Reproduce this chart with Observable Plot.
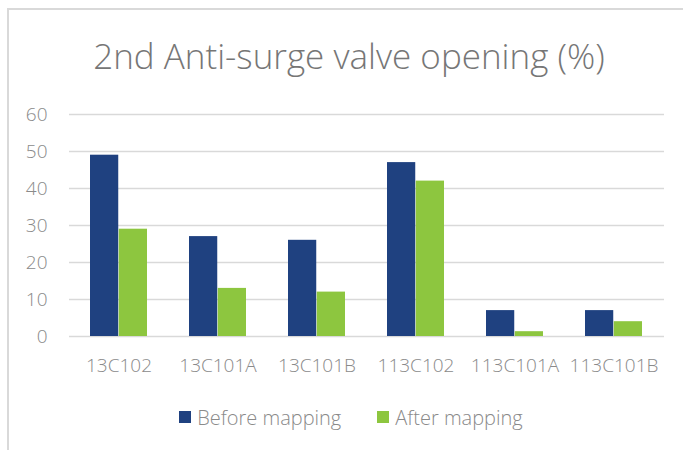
<!DOCTYPE html>
<html><head><meta charset="utf-8">
<script src="https://cdn.jsdelivr.net/npm/d3@7"></script>
<script src="https://cdn.jsdelivr.net/npm/@observablehq/plot@0.6"></script>
<style>
body{margin:0;background:#fff;font-family:"Open Sans",sans-serif;width:683px;height:450px;overflow:hidden;position:relative;}
#frame{position:absolute;left:7px;top:8px;width:720px;height:480px;border-left:2px solid #d9d9d9;border-top:2px solid #d9d9d9;}
#title{position:absolute;left:0;top:32px;width:698px;text-align:center;font-size:35px;font-weight:300;color:#767676;white-space:nowrap;}
#chart{position:absolute;left:0;top:0;}
#legend{position:absolute;left:0;top:404px;width:702px;display:flex;justify-content:center;gap:36px;font-size:20px;font-weight:300;color:#8a8a8a;}
#legend span.item{display:flex;align-items:center;}
#legend span.sw{display:inline-block;width:12px;height:12px;margin-right:6px;margin-top:-2px;}
</style></head>
<body>
<div id="frame"></div>
<div id="chart"></div>
<div id="title">2nd Anti-surge valve opening (%)</div>
<div id="legend"></div>
<script>
const categories = ["13C102","13C101A","13C101B","113C102","113C101A","113C101B"];
const seriesNames = ["Before mapping","After mapping"];
const before = [49,27,26,47,7,7];
const after = [29,13,12,42,1.3,4];
const yTicks = [0,10,20,30,40,50,60];

const beforeData = categories.map((c,i)=>({cat:c, value:before[i]}));
const afterData = categories.map((c,i)=>({cat:c, value:after[i]}));
const colors = ["#1f4180","#8dc63f"];

const W = 683, ML = 69, MR = 19, padIn = 0.42, padOut = 0.21;
const step = (W - ML - MR) / (categories.length - padIn + 2*padOut);
const half = step * (1 - padIn) / 2;

const chart = Plot.plot({
  width:W, height:390,
  marginTop:114, marginBottom:54, marginLeft:ML, marginRight:MR,
  style:{fontFamily:'"Open Sans",sans-serif', fontSize:"19px", fontWeight:300, color:"#8a8a8a", background:"transparent", overflow:"visible"},
  x:{domain:categories, paddingInner:padIn, paddingOuter:padOut, label:null, tickSize:0, tickPadding:22},
  y:{domain:[0,60], ticks:yTicks, label:null, tickSize:0, tickPadding:22},
  marks:[
    Plot.ruleY(yTicks,{stroke:"#d9d9d9", strokeWidth:1.5}),
    Plot.barY(beforeData,{x:"cat", y:"value", fill:colors[0], insetRight:half}),
    Plot.barY(afterData,{x:"cat", y:"value", fill:colors[1], insetLeft:half})
  ]
});
document.getElementById("chart").appendChild(chart);

const leg = document.getElementById("legend");
seriesNames.forEach((s,i)=>{
  const it = document.createElement("span"); it.className="item";
  const sw = document.createElement("span"); sw.className="sw"; sw.style.background=colors[i];
  it.appendChild(sw); it.appendChild(document.createTextNode(s));
  leg.appendChild(it);
});
</script>
</body></html>
